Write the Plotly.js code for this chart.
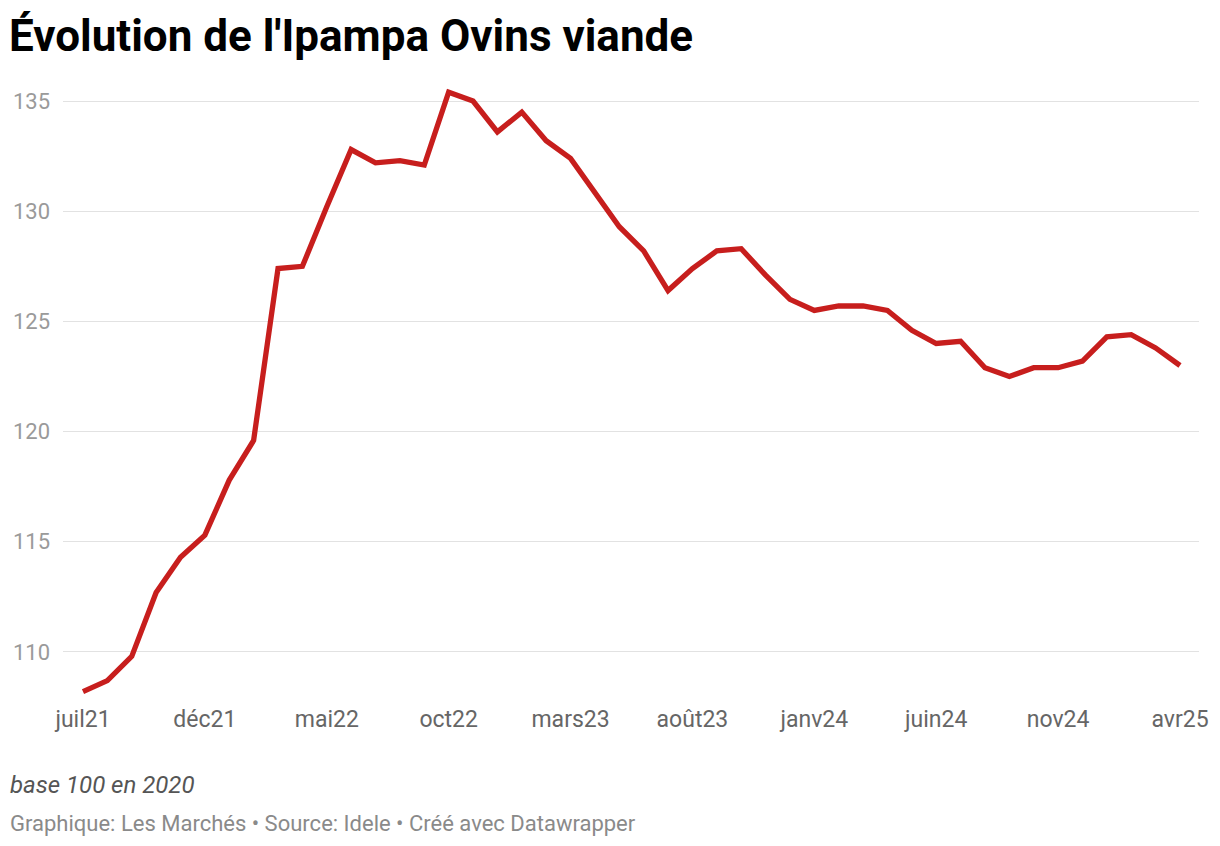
<!DOCTYPE html>
<html>
<head>
<meta charset="utf-8">
<script src="https://cdn.plot.ly/plotly-3.0.1.min.js"></script>
<style>html,body{margin:0;padding:0;background:#fff;}#chart{width:1220px;height:846px;}</style>
</head>
<body>
<div id="chart"></div>
<script>
const months = ["juil21","août21","sept21","oct21","nov21","déc21","janv22","févr22","mars22","avr22","mai22","juin22",
"juil22","août22","sept22","oct22","nov22","déc22","janv23","févr23","mars23","avr23","mai23","juin23",
"juil23","août23","sept23","oct23","nov23","déc23","janv24","févr24","mars24","avr24","mai24","juin24",
"juil24","août24","sept24","oct24","nov24","déc24","janv25","févr25","mars25","avr25"];
const ipampa = [108.2,108.7,109.8,112.7,114.3,115.3,117.8,119.6,127.4,127.5,130.2,132.8,
132.2,132.3,132.1,135.4,135.0,133.6,134.5,133.2,132.4,130.9,129.3,128.2,
126.4,127.4,128.2,128.3,127.1,126.0,125.5,125.7,125.7,125.5,124.6,124.0,
124.1,122.9,122.5,122.9,122.9,123.2,124.3,124.4,123.8,123.0];
const tickLabels = ["juil21","déc21","mai22","oct22","mars23","août23","janv24","juin24","nov24","avr25"];
const yTicks = [110,115,120,125,130,135];

const xIdx = months.map((m,i)=>i);
const tickIdx = tickLabels.map(t=>months.indexOf(t));

const trace = {
  x: xIdx, y: ipampa, type:'scatter', mode:'lines',
  line:{color:'#c71e1d', width:5.3}, hoverinfo:'skip'
};
const layout = {
  width:1220, height:846,
  margin:{l:63, r:21, t:85, b:146},
  paper_bgcolor:'#fff', plot_bgcolor:'#fff',
  showlegend:false,
  font:{family:'Roboto, sans-serif'},
  title:{text:"Évolution de l'Ipampa Ovins viande", font:{family:'Roboto, sans-serif', size:44, color:'#000', weight:700},
    x:9/1220, xanchor:'left', xref:'container', y:1-36/846, yanchor:'middle', yref:'container'},
  xaxis:{range:[-0.82,45.78], tickvals:tickIdx, ticktext:tickLabels, showgrid:false, zeroline:false, showline:false,
    ticks:'', tickfont:{size:23, color:'#666'}, ticklabelstandoff:3, fixedrange:true},
  yaxis:{range:[107.82,135.73], tickvals:yTicks, ticktext:yTicks.map(String), showgrid:true, gridcolor:'#e2e2e2', gridwidth:1,
    zeroline:false, showline:false, ticks:'', tickfont:{size:22, color:'#9a9a9a'}, ticklabelstandoff:12, fixedrange:true},
  annotations:[
    {text:'<i>base 100 en 2020</i>', xref:'paper', yref:'paper', x:-55/1136, xanchor:'left', y:-(785-700)/615, yanchor:'middle',
     showarrow:false, font:{size:24, color:'#555'}},
    {text:'Graphique: Les Marchés • Source: Idele • Créé avec Datawrapper', xref:'paper', yref:'paper', x:-55/1136, xanchor:'left',
     y:-(823-700)/615, yanchor:'middle', showarrow:false, font:{size:22, color:'#8a8a8a'}}
  ]
};
Plotly.newPlot('chart',[trace],layout,{displayModeBar:false, staticPlot:true});
</script>
</body>
</html>
